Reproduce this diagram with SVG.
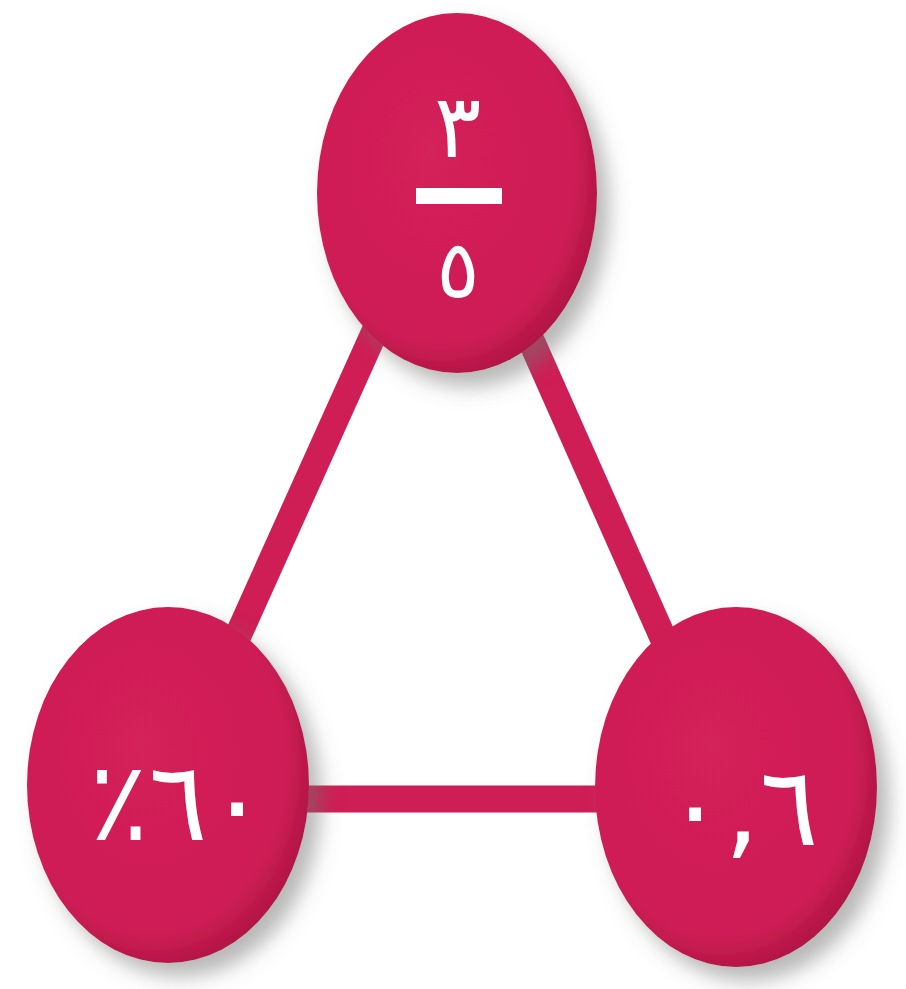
<svg xmlns="http://www.w3.org/2000/svg" width="906" height="989" viewBox="0 0 906 989">
<defs>
<radialGradient id="ball" cx="0.45" cy="0.45" r="0.6" fx="0.4" fy="0.38">
<stop offset="0" stop-color="#D4205A"/>
<stop offset="0.8" stop-color="#CE1E56"/>
<stop offset="1" stop-color="#A8123F"/>
</radialGradient>
<filter id="shadow" x="-20%" y="-20%" width="150%" height="150%">
<feDropShadow dx="12" dy="14" stdDeviation="10" flood-color="#707070" flood-opacity="0.5"/>
</filter>
</defs>
<style>
.edge{stroke:#CF1D55;stroke-width:27;fill:none}
.ball{fill:url(#ball);filter:url(#shadow)}
.lbl{fill:#FFFFFF;font-family:"DejaVu Sans","Noto Sans",sans-serif;font-weight:normal;text-anchor:middle}
</style>
<rect width="906" height="989" fill="#FFFFFF"/>
<g id="connectors">
<line class="edge" x1="380" y1="320" x2="236" y2="640"/>
<line class="edge" x1="522" y1="320" x2="664" y2="640"/>
<line class="edge" x1="290" y1="799" x2="610" y2="799"/>
</g>
<g id="node-fraction">
<ellipse class="ball" cx="457" cy="193" rx="140" ry="180"/>
<text class="lbl" x="458" y="157" font-size="88">٣</text>
<rect x="416" y="188" width="86" height="16" fill="#FFFFFF"/>
<text class="lbl" x="458" y="297" font-size="80">٥</text>
</g>
<g id="node-percent">
<ellipse class="ball" cx="168" cy="785" rx="141" ry="178"/>
<text class="lbl" x="178" y="840" font-size="110" direction="rtl" letter-spacing="18">٦٠٪</text>
</g>
<g id="node-decimal">
<ellipse class="ball" cx="736" cy="787" rx="141" ry="180"/>
<text class="lbl" x="742" y="845" font-size="110" letter-spacing="20">٠,٦</text>
</g>
</svg>
